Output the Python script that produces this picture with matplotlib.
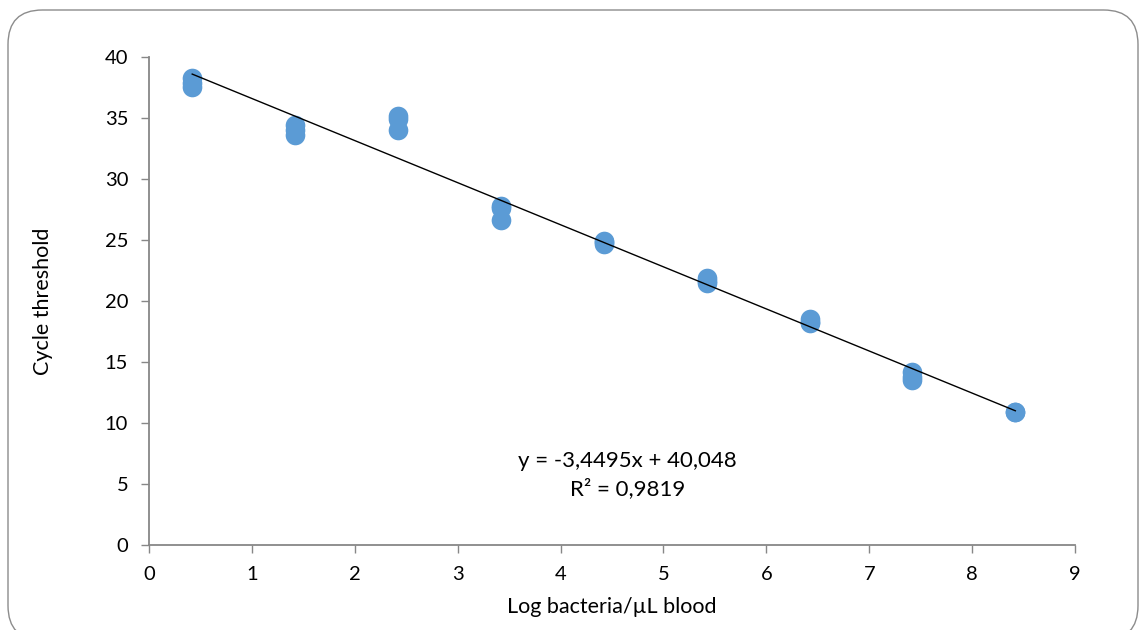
import matplotlib
matplotlib.use("Agg")
import matplotlib.pyplot as plt
from matplotlib.patches import FancyBboxPatch
import numpy as np

# Data
log_bacteria = [0.42, 0.42, 0.42,
                1.42, 1.42, 1.42,
                2.42, 2.42, 2.42,
                3.42, 3.42, 3.42,
                4.42, 4.42, 4.42,
                5.42, 5.42, 5.42,
                6.42, 6.42, 6.42,
                7.42, 7.42, 7.42,
                8.42, 8.42]
cycle_threshold = [38.3, 37.9, 37.5,
                   34.4, 34.0, 33.6,
                   35.2, 34.9, 34.0,
                   27.8, 27.6, 26.6,
                   24.9, 24.8, 24.7,
                   21.9, 21.6, 21.5,
                   18.5, 18.3, 18.2,
                   14.2, 13.8, 13.5,
                   10.9, 10.9]
slope = -3.4495
intercept = 40.048
r_squared = 0.9819
x_ticks = [0, 1, 2, 3, 4, 5, 6, 7, 8, 9]
y_ticks = [0, 5, 10, 15, 20, 25, 30, 35, 40]

plt.rcParams['font.family'] = ['Lato', 'DejaVu Sans']

fig = plt.figure(figsize=(11.46, 6.30), dpi=100)
border = FancyBboxPatch((8/1146, -10/630), (1138-8)/1146, (620+10)/630,
                        boxstyle="round,pad=0,rounding_size=0.03",
                        transform=fig.transFigure, fill=False,
                        edgecolor="#8c8c8c", linewidth=1.0,
                        mutation_aspect=1146/630)
fig.patches.append(border)

ax = fig.add_axes([149/1146, 1 - 545/630, (1075-149)/1146, (545-57)/630])

ax.scatter(log_bacteria, cycle_threshold, s=200, color="#5B9BD5", zorder=2, linewidths=0)
xs = np.array([min(log_bacteria), max(log_bacteria)])
ax.plot(xs, slope * xs + intercept, color="black", linewidth=1.0, zorder=3)

ax.set_xlim(0, 9)
ax.set_ylim(0, 40)
ax.set_xticks(x_ticks)
ax.set_yticks(y_ticks)
for s in ["top", "right"]:
    ax.spines[s].set_visible(False)
for s in ["left", "bottom"]:
    ax.spines[s].set_color("#878787")
    ax.spines[s].set_linewidth(1.3)
ax.tick_params(axis="both", direction="out", length=6, width=1.0, color="#878787",
               labelsize=14.5, labelcolor="black")
ax.tick_params(axis="x", pad=9)
ax.tick_params(axis="y", pad=9)

ax.set_xlabel("Log bacteria/µL blood", fontsize=15.5, labelpad=10)
ax.set_ylabel("Cycle threshold", fontsize=15.5, labelpad=37)

eq = "y = {:.4f}x + {:.3f}".format(slope, intercept).replace(".", ",")
r2 = "R² = {:.4f}".format(r_squared).replace(".", ",")
ax.text(4.65, 5.75, eq + "\n" + r2, ha="center", va="center", fontsize=16,
        linespacing=1.45)

fig.savefig("out.png", dpi=100)
